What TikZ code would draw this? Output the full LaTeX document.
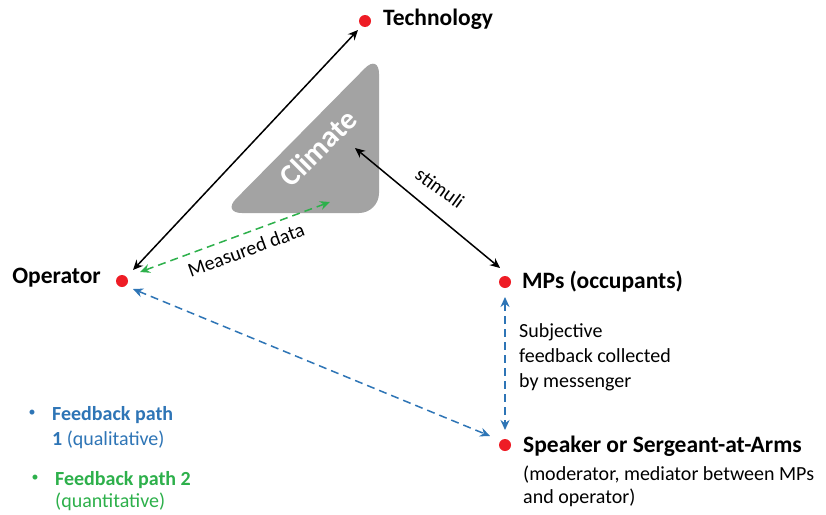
\documentclass[tikz,border=0pt]{standalone}
\usepackage{fontspec}
\setmainfont{Carlito}
\usetikzlibrary{arrows.meta}
\definecolor{fbblue}{HTML}{2E75B6}
\definecolor{fbgreen}{HTML}{2DB04B}
\definecolor{dotred}{HTML}{EE1C25}
\definecolor{climgray}{HTML}{A3A3A3}
\begin{document}
\begin{tikzpicture}[x=1pt,y=-1pt,
  dot/.style={circle,fill=dotred,inner sep=0pt,minimum size=12pt},
  lbl/.style={font=\fontsize{23.5}{26}\selectfont\bfseries,inner sep=0pt},
  txt/.style={font=\fontsize{20}{24}\selectfont,inner sep=0pt,align=left},
  blk/.style={{Stealth[length=10pt,width=9pt]}-{Stealth[length=10pt,width=9pt]},line width=1.5pt},
  dsh/.style={{Stealth[length=10pt,width=9pt]}-{Stealth[length=10pt,width=9pt]},line width=1.5pt,dash pattern=on 8pt off 5pt}]
\useasboundingbox (0,0) rectangle (826,514);
\fill[white] (0,0) rectangle (826,514);
% climate triangle
\fill[climgray,rounded corners=20pt] (379,54) -- (379,213) -- (222,213) -- cycle;
\node[rotate=45,text=white,font=\fontsize{30}{32}\selectfont\bfseries,inner sep=0pt] (clim) at (318,148) {Climate};
% dots
\node[dot] (tech) at (365,21) {};
\node[dot] (op) at (122,281) {};
\node[dot] (mp) at (505,282) {};
\node[dot] (sp) at (505,445) {};
\node[lbl,anchor=west] (techl) at (383,19) {Technology};
\node[lbl,anchor=east] (opl) at (101,278) {Operator};
\node[lbl,anchor=west] (mpl) at (522,282) {MPs (occupants)};
\node[lbl,anchor=west] (spl) at (523,446) {Speaker or Sergeant-at-Arms};
\node[txt,anchor=base west] (spd1) at (523,480) {(moderator, mediator between MPs};
\node[txt,anchor=base west] (spd2) at (523,503) {and operator)};
% connector endpoints
\coordinate (a1) at (358,30);
\coordinate (a2) at (133,270);
\coordinate (s1) at (355,148);
\coordinate (s2) at (500,268);
\coordinate (g1) at (330,202);
\coordinate (g2) at (140,272);
\coordinate (b1) at (133,289);
\coordinate (b2) at (490,436);
\coordinate (v1) at (505,297);
\coordinate (v2) at (505,430);
\draw[blk] (a1) -- (a2);
\draw[blk] (s1) -- (s2);
\draw[dsh,fbgreen] (g1) -- (g2);
\draw[dsh,fbblue] (b1) -- (b2);
\draw[dsh,fbblue] (v1) -- (v2);
\node[txt,rotate=-36] (stim) at (440,188) {stimuli};
\node[txt,rotate=20] (meas) at (246,250) {Measured data};
\node[txt,anchor=base west] (subj1) at (519,337) {Subjective};
\node[txt,anchor=base west] (subj2) at (519,362) {feedback collected};
\node[txt,anchor=base west] (subj3) at (519,387) {by messenger};
% legend
\node[text=fbblue,font=\fontsize{14}{16}\selectfont,inner sep=0pt] (b1l) at (32,413) {•};
\node[txt,text=fbblue,anchor=base west] (leg1a) at (52,420) {\textbf{Feedback path}};
\node[txt,text=fbblue,anchor=base west] (leg1b) at (52,445) {\textbf{1} (qualitative)};
\node[text=fbgreen,font=\fontsize{14}{16}\selectfont,inner sep=0pt] (b2l) at (35,478) {•};
\node[txt,text=fbgreen,anchor=base west] (leg2a) at (55,485) {\textbf{Feedback path 2}};
\node[txt,text=fbgreen,anchor=base west] (leg2b) at (55,507) {(quantitative)};
\end{tikzpicture}
\end{document}
